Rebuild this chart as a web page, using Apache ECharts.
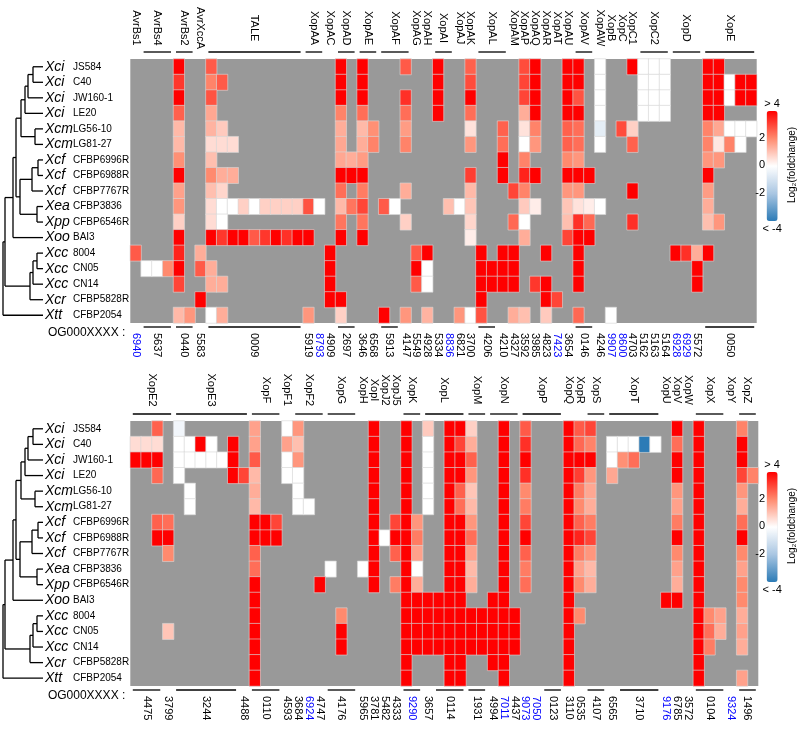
<!DOCTYPE html>
<html><head><meta charset="utf-8">
<script src="https://cdn.jsdelivr.net/npm/echarts@6/dist/echarts.min.js"></script>
<style>html,body{margin:0;padding:0;background:#fff}#c{width:798px;height:731px}</style>
</head><body><div id="c"></div>
<script>
const _ = null;
const FONT = '"Liberation Sans", Arial, sans-serif';

const speciesNames = ['Xci','Xci','Xci','Xci','Xcm','Xcm','Xcf','Xcf','Xcf','Xea','Xpp','Xoo','Xcc','Xcc','Xcc','Xcr','Xtt'];
const strainNames = ['JS584','C40','JW160-1','LE20','LG56-10','LG81-27','CFBP6996R','CFBP6988R','CFBP7767R','CFBP3836','CFBP6546R','BAI3','8004','CN05','CN14','CFBP5828R','CFBP2054'];

// ---- top panel: effector names, column spans, orthogroup labels ----
const topGenes = ['AvrBs1','AvrBs4','AvrBs2','AvrXccA','TALE','XopAA','XopAC','XopAD','XopAE','XopAF','XopAG','XopAH','XopAI','XopAJ','XopAK','XopAL','XopAM','XopAP','XopAQ','XopAR','XopAT','XopAU','XopAV','XopAW','XopB','XopC','XopC1','XopC2','XopD','XopE'];
const topGeneSpans = [[0,0],[1,3],[4,5],[6,6],[7,15],[16,17],[18,18],[19,20],[21,22],[23,25],[26,26],[27,27],[28,29],[30,30],[31,31],[32,34],[35,35],[36,36],[37,37],[38,38],[39,39],[40,40],[41,42],[43,43],[44,44],[45,45],[46,46],[47,49],[50,52],[53,57]];
const topOGs = ['6940','5637','0440','5583','0009','5919','8793','4909','2697','3646','6568','5913','4147','5549','4928','5334','8836','6821','3700','4206','4210','4327','3592','3985','4823','7423','3654','0146','4246','9907','8600','4703','5162','5163','5164','6928','6929','5572','0050'];
const topOGSpans = [[0,0],[1,3],[4,5],[6,6],[7,15],[16,16],[17,17],[18,18],[19,20],[21,21],[22,22],[23,24],[25,25],[26,26],[27,27],[28,28],[29,29],[30,30],[31,31],[32,33],[34,34],[35,35],[36,36],[37,37],[38,38],[39,39],[40,40],[41,42],[43,43],[44,44],[45,45],[46,46],[47,47],[48,48],[49,49],[50,50],[51,51],[52,52],[53,57]];
const topOGBlue = ['6940','8793','8836','7423','9907','8600','6928','6929'];

// ---- bottom panel ----
const botGenes = ['XopE2','XopE3','XopF','XopF1','XopF2','XopG','XopH','XopI','XopJ2','XopJ5','XopK','XopL','XopM','XopN','XopP','XopQ','XopR','XopS','XopT','XopU','XopV','XopW','XopX','XopY','XopZ'];
const botGeneSpans = [[0,3],[4,10],[11,13],[14,14],[15,17],[18,20],[21,21],[22,22],[23,23],[24,24],[25,26],[27,30],[31,32],[33,35],[36,39],[40,40],[41,41],[42,43],[44,48],[49,49],[50,50],[51,51],[52,54],[55,55],[56,57]];
const botOGs = ['4475','3799','3244','4488','0110','4593','3684','6924','4747','4176','5965','3781','5482','4333','9290','3657','0114','1931','4994','7011','4437','9073','7050','0123','3110','0535','4107','6565','3710','9176','6785','3572','0104','9324','1496'];
const botOGSpans = [[0,2],[3,3],[4,9],[10,10],[11,13],[14,14],[15,15],[16,16],[17,17],[18,20],[21,21],[22,22],[23,23],[24,24],[25,26],[27,27],[28,30],[31,32],[33,33],[34,34],[35,35],[36,36],[37,37],[38,39],[40,40],[41,41],[42,43],[44,44],[45,48],[49,49],[50,50],[51,51],[52,54],[55,55],[56,57]];
const botOGBlue = ['6924','9290','7011','9073','7050','9176','9324'];

// ---- log2 fold change values, top panel (17 strains x 58 columns, null = absent) ----
const top_JS584 = [_,_,_,_,4,_,_,2.7,_,_, _,_,_,_,_,_,_,_,_,4, _,4,_,_,_,2.7,_,_,4,_, _,2.6,_,_,_,_,2.9,4,_,_, 4,4,_,0,_,_,4,0,0,0, _,_,_,4,4,_,_,_];
const top_C40 = [_,_,_,_,3.2,_,_,2.1,2.7,_, _,_,_,_,_,_,_,_,_,4, _,4,_,_,_,_,_,_,4,_, _,2.9,_,_,_,_,3.0,4,_,_, 4,4,_,0,_,_,_,0,0,0, _,_,_,4,4,0,4,4];
const top_JW160 = [_,_,_,_,4,_,_,2.8,_,_, _,_,_,_,_,_,_,_,_,4, _,4,_,_,_,3.3,_,_,4,_, _,4,_,_,_,_,3.0,4,_,_, 4,2.8,_,0,_,_,_,0,0,0, _,_,_,4,4,0,4,4];
const top_LE20 = [_,_,_,_,2.6,_,_,1.5,_,_, _,_,_,_,_,_,_,_,_,2.1, _,2.4,_,_,_,2.4,_,_,4,_, _,2.4,_,_,_,_,1.4,4,_,_, 4,4,_,0,_,_,_,0,0,0, _,_,_,4,4,_,_,_];
const top_LG5610 = [_,_,_,_,1.2,_,_,1.3,0.9,_, _,_,_,_,_,_,_,_,_,1.4, _,1.2,1.9,_,_,1.7,_,_,_,_, _,0.5,_,_,2.6,_,0.5,2.1,_,_, 2.6,2.4,_,-0.6,_,2.9,0.8,_,_,_, _,_,_,2.1,1.5,0,0,0];
const top_LG8127 = [_,_,_,_,1.2,_,_,0.6,0.6,0.6, _,_,_,_,_,_,_,_,_,1.5, _,1.4,2.1,_,_,2.1,_,_,_,_, _,1.8,_,_,2.4,_,0,1.8,_,_, 2.6,2.4,_,0,_,_,2.6,_,_,_, _,_,_,2.1,0.4,2.1,0,_];
const top_6996R = [_,_,_,_,1.9,_,_,1.1,_,_, _,_,_,_,_,_,_,_,_,1.5, 1.4,1.7,_,_,_,_,_,_,_,_, _,_,_,_,4,_,2.1,_,_,_, 2.0,1.8,_,_,_,_,_,_,_,_, _,_,_,1.8,1.8,_,_,_];
const top_6988R = [_,_,_,_,4,_,_,2.0,1.4,1.4, _,_,_,_,_,_,_,_,_,4, 4,4,_,_,_,_,_,_,_,_, _,3.1,_,_,4,_,3.5,4,_,_, 4,4,4,_,_,_,_,_,_,_, _,_,_,4,_,_,_,_];
const top_7767R = [_,_,_,_,1.6,_,_,1.1,0.7,_, _,_,_,_,_,_,_,_,_,2.4, _,2.2,_,_,_,1.4,_,_,_,_, _,1.2,_,_,_,3.0,2.1,_,_,_, 1.8,1.8,_,_,_,_,4,_,_,_, _,_,_,1.7,_,_,_,_];
const top_3836 = [_,_,_,_,1.8,_,_,0.6,0,0, 0.8,0,0.8,0.8,0.8,0.8,2.8,0,_,1.2, 2.3,3.0,_,2.7,0,_,_,_,_,1.1, 0,1.0,_,_,_,_,0.9,0.3,_,_, 1.0,0.5,0.3,0,_,_,_,_,_,_, _,_,_,1.4,_,_,_,_];
const top_6546R = [_,_,_,_,0.8,_,_,0.6,0,_, _,_,_,_,_,_,_,_,_,2.3, _,2.3,_,_,_,0.8,_,_,_,_, _,0.7,_,_,_,2.5,0,_,_,_, 1.1,3.3,2.5,_,_,_,3.3,_,_,_, _,_,_,1.1,1.8,_,_,_];
const top_BAI3 = [_,_,_,_,4,_,_,4,3.2,4, 4,2.7,3.2,4,3.3,4,4,_,_,4, _,4,_,_,_,_,_,_,_,_, _,0.3,_,_,_,_,1.4,_,_,_, 3.0,4,4,_,_,_,_,_,_,_, _,_,_,_,_,_,_,_];
const top_8004 = [2.7,_,_,_,3.5,_,1.4,_,_,_, _,_,_,_,_,_,_,_,4,_, _,_,_,_,_,_,2.7,4,_,_, _,_,4,_,4,4,_,_,4,_, _,4,_,_,_,_,_,_,_,_, 4,3.3,1.4,4,_,_,_,_];
const top_CN05 = [_,0,0,2.0,4,_,2.7,1.4,_,_, _,_,_,_,_,_,_,_,4,_, _,_,_,_,_,_,4,0,_,_, _,_,4,4,4,4,_,_,_,_, _,4,_,_,_,_,_,_,_,_, _,_,4,_,_,_,_,_];
const top_CN14 = [_,_,_,_,3.0,_,_,1.4,1.4,_, _,_,_,_,_,_,_,_,4,_, _,_,_,_,_,_,2.7,0,_,_, _,_,4,4,4,4,_,3.2,4,_, _,4,_,_,_,_,_,_,_,_, _,_,4,_,_,_,_,_];
const top_5828R = [_,_,_,_,_,_,4,_,_,_, _,_,_,_,_,_,_,_,4,4, _,_,_,_,_,_,_,_,_,_, _,_,4,_,_,_,_,_,4,3.0, _,_,_,_,_,_,_,_,_,_, _,_,_,_,_,_,_,_];
const top_2054 = [_,_,_,_,1.2,1.8,_,0,1.4,_, _,_,_,_,_,_,1.8,_,_,0.8, _,_,_,4,_,1.8,_,1.3,_,_, 1.8,0,2.8,_,_,1.4,1.1,_,0.9,_, _,2.5,_,_,0,_,_,_,_,_, _,_,_,_,_,_,_,_];

// ---- bottom panel ----
const bot_JS584 = [_,_,2.6,_,-0.3,_,_,_,_,_, _,1.6,_,_,0,1.8,_,_,_,_, _,_,4,_,_,4,_,0.9,_,4, 4,0.8,_,_,4,_,2.7,_,_,_, 4,2.7,3.0,_,_,_,_,_,_,_, 4,_,4,_,_,_,2.1,_];
const bot_C40 = [0.6,0.6,0.6,_,0,0,4,0,_,4, _,1.6,_,_,1.6,1.1,_,_,_,_, _,_,4,_,_,4,_,0,_,4, 3.0,1.4,_,_,4,_,3.3,_,_,_, 4,2.5,2.1,_,0,0,0,-4,0,_, 2.4,_,4,_,_,_,4,_];
const bot_JW160 = [4,4,4,_,0,0,0,0,0,4, _,2.7,_,_,0,1.8,_,_,_,_, _,_,4,_,_,4,_,0,_,4, 4,2.6,_,_,4,_,4,_,_,_, 4,4,4,_,0,1.9,2.4,_,_,_, 4,_,4,_,_,_,4,_];
const bot_LE20 = [_,_,2.5,_,0,_,_,_,_,4, 3.0,1.2,_,_,0,0,_,_,_,_, _,_,4,_,_,4,_,0,_,4, 4,1.8,_,_,4,_,3.3,_,_,_, 4,3.1,1.8,_,1.5,_,_,_,_,_, 4,_,4,_,_,_,3.0,2.1];
const bot_LG5610 = [_,_,_,_,_,0,_,_,_,_, _,1.4,_,_,_,0,_,_,_,_, _,_,4,_,_,4,_,0,_,4, 2.6,1.0,_,_,4,_,2.0,_,_,_, 4,2.2,1.5,_,_,_,_,_,_,_, 1.8,_,4,_,_,_,1.8,_];
const bot_LG8127 = [_,_,_,_,_,0,_,_,_,_, _,1.2,_,_,_,0,0,_,_,_, _,_,4,_,_,4,_,0,_,4, 2.4,1.2,_,_,4,_,2.2,_,_,_, 4,2.0,1.4,_,_,_,_,_,_,_, 1.6,_,4,_,_,_,1.4,_];
const bot_6996R = [_,_,2.6,2.4,_,_,_,_,_,_, _,4,4,3.0,_,_,_,_,_,_, _,_,4,_,3.0,4,1.8,_,_,4, 4,1.8,_,_,4,_,3.0,_,_,_, 4,2.6,2.2,_,_,_,_,_,_,_, 2.2,_,4,_,_,_,2.4,_];
const bot_6988R = [_,_,4,4,_,_,_,_,_,_, _,4,4,4,_,_,_,_,_,_, _,_,4,0,4,4,2.2,_,_,4, 4,2.4,_,_,4,_,4,_,_,_, 4,3.5,3.0,_,_,_,_,_,_,_, 4,_,4,_,_,_,4,_];
const bot_7767R = [_,_,_,2.0,_,_,_,_,_,_, _,2.6,_,_,_,_,_,_,_,_, _,_,4,_,2.6,4,1.6,_,_,4, 4,1.6,_,_,4,_,2.6,_,_,_, 4,2.2,1.8,_,_,_,_,_,_,_, 2.0,_,4,_,_,_,2.0,_];
const bot_3836 = [_,_,_,_,_,_,_,_,_,_, _,2.4,_,_,_,_,_,_,0,_, _,0,4,_,_,4,0,_,_,4, 4,1.2,_,_,4,_,2.2,_,_,_, 4,1.6,1.2,_,_,_,_,_,_,_, 1.6,_,4,_,_,_,1.6,_];
const bot_6546R = [_,_,_,_,_,_,_,_,_,_, _,4,_,_,_,_,_,4,_,_, _,_,4,_,2.2,4,1.4,_,_,4, 4,1.4,_,_,4,_,2.4,_,_,_, 4,2.0,1.4,_,_,_,_,_,_,_, 1.4,_,4,_,_,_,2.0,_];
const bot_BAI3 = [_,_,_,_,_,_,_,_,_,_, _,4,_,_,_,_,_,_,_,_, _,_,_,_,_,4,4,4,4,4, 4,_,_,4,4,_,_,_,_,_, 4,_,_,_,_,_,_,_,_,4, 4,_,4,_,_,_,2.0,_];
const bot_8004 = [_,_,_,_,_,_,_,_,_,_, _,4,_,_,_,_,_,_,_,2.0, _,_,_,_,_,4,4,4,4,4, 4,4,4,4,4,4,_,_,_,_, 4,2.0,_,_,_,_,_,_,_,_, _,_,4,2.0,1.6,_,1.4,_];
const bot_CN05 = [_,_,_,1.0,_,_,_,_,_,_, _,4,_,_,_,_,_,_,_,4, _,_,_,_,_,4,4,4,4,4, 4,4,4,4,4,4,_,_,_,_, 4,_,_,_,_,_,_,_,_,_, _,_,4,2.4,1.4,_,1.6,_];
const bot_CN14 = [_,_,_,_,_,_,_,_,_,_, _,4,_,_,_,_,_,_,_,4, _,_,_,_,_,4,4,4,4,4, 4,4,4,4,4,4,_,_,_,_, 4,_,_,_,_,_,_,_,_,_, _,_,4,2.2,_,_,1.4,_];
const bot_5828R = [_,_,_,_,_,_,_,_,_,_, _,4,_,_,_,_,_,_,_,_, _,_,_,_,_,4,_,_,_,4, 4,_,_,4,4,_,_,_,_,_, 4,_,_,_,_,_,_,_,_,_, _,_,4,_,_,_,_,_];
const bot_2054 = [_,_,_,_,_,_,_,_,_,_, _,4,_,_,_,_,_,_,_,_, _,_,_,_,_,4,_,_,_,4, 4,_,_,_,4,_,_,_,_,_, 4,_,_,_,_,_,_,_,_,_, _,_,4,_,_,_,1.6,_];

const topRows = [top_JS584,top_C40,top_JW160,top_LE20,top_LG5610,top_LG8127,top_6996R,top_6988R,top_7767R,top_3836,top_6546R,top_BAI3,top_8004,top_CN05,top_CN14,top_5828R,top_2054];
const botRows = [bot_JS584,bot_C40,bot_JW160,bot_LE20,bot_LG5610,bot_LG8127,bot_6996R,bot_6988R,bot_7767R,bot_3836,bot_6546R,bot_BAI3,bot_8004,bot_CN05,bot_CN14,bot_5828R,bot_2054];

// ---- dendrogram: [branch depth, childA, childB]; children: row index or node name ----
const treeNodes = {
  A: [33, 0, 1], B: [28, 'A', 2], C: [25, 'B', 3], D: [35, 4, 5], E: [21, 'C', 'D'],
  F: [38, 6, 7], G: [32, 'F', 8], H: [37, 9, 10], I: [20, 'G', 'H'], J: [16, 'E', 'I'],
  K: [13, 'J', 11], L: [37, 12, 13], M: [33, 'L', 14], N: [30, 'M', 15], O: [5, 'K', 'N'], P: [3, 'O', 16]
};
const leafDepth = 43;

const legendTicks = [-2, 0, 2];
const legendEnds = ['> 4', '< -4'];
const palette = ['#2C7BB6', '#A9C6E2', '#FFFFFF', '#FF8A6E', '#FF0000'];

// ---------------------------------------------------------------
function heatData(rows){ const d=[]; rows.forEach((r,ri)=>r.forEach((v,ci)=>{ if(v!==null) d.push([ci,ri,v]); })); return d; }
function treeSegments(){
  const segs = [];
  const info = {};
  function pos(ch){
    if (typeof ch === 'number') return {x: leafDepth, y: ch};
    if (info[ch]) return info[ch];
    const n = treeNodes[ch]; const a = pos(n[1]), b = pos(n[2]);
    const p = {x: n[0], y: (a.y + b.y)/2};
    segs.push([n[0], a.y, n[0], b.y]);
    segs.push([n[0], a.y, a.x, a.y]);
    segs.push([n[0], b.y, b.x, b.y]);
    info[ch] = p; return p;
  }
  pos('P');
  return segs;
}
const colCats = Array.from({length:58},(v,i)=>String(i));
const rowCats = strainNames.map((v,i)=>String(i));

function heatY(grid){
  return {type:'category', gridIndex:grid, data:rowCats, inverse:true,
    axisLine:{show:false}, axisTick:{show:false}, splitLine:{show:false},
    axisLabel:{show:true, align:'left', margin:85.3, interval:0,
      formatter:(v,i)=>'{sp|'+speciesNames[i]+'}{st|'+strainNames[i]+'}',
      rich:{sp:{fontStyle:'italic', fontSize:14, width:28, fontFamily:FONT, color:'#000'},
            st:{fontSize:10, fontFamily:FONT, color:'#000'}}}};
}
function heatX(grid){
  return {type:'category', gridIndex:grid, data:colCats, show:false,
    axisLine:{show:false}, axisTick:{show:false}, axisLabel:{show:false}, splitLine:{show:false}};
}
function hiddenVal(grid, min, max, inverse){
  return {type:'value', gridIndex:grid, min:min, max:max, inverse:!!inverse, show:false,
    axisLine:{show:false}, axisTick:{show:false}, axisLabel:{show:false}, splitLine:{show:false}};
}
function headerSeries(axis, labels, spans){
  return {type:'custom', xAxisIndex:axis, yAxisIndex:axis, silent:true, clip:false, z:5,
    data: spans.map((s,i)=>[s[0],0,s[1],i]), encode:{x:[0,2], y:1},
    renderItem(params, api){
      const s=api.value(0), e=api.value(2), i=api.value(3);
      const bw=api.size([1,0])[0], bh=api.size([0,1])[1];
      const p0=api.coord([s,0]), p1=api.coord([e,0]);
      const x1=p0[0]-bw/2, x2=p1[0]+bw/2, top=p0[1]-bh/2;
      const ch=[{type:'text', x:(x1+x2)/2, y:top-31, rotation:-Math.PI/2,
        style:{text:labels[i], fill:'#000', font:'11px '+FONT, align:'center', verticalAlign:'middle'}}];
      if (e>s) ch.push({type:'line', shape:{x1:x1+2.5, y1:top-7, x2:x2-2.5, y2:top-7}, style:{stroke:'#000', lineWidth:1.3}});
      return {type:'group', children:ch};
    }};
}
function ogSeries(axis, labels, spans, blue){
  return {type:'custom', xAxisIndex:axis, yAxisIndex:axis, silent:true, clip:false, z:5,
    data: spans.map((s,i)=>[s[0],16,s[1],i]), encode:{x:[0,2], y:1},
    renderItem(params, api){
      const s=api.value(0), e=api.value(2), i=api.value(3);
      const bw=api.size([1,0])[0], bh=api.size([0,1])[1];
      const p0=api.coord([s,16]), p1=api.coord([e,16]);
      const x1=p0[0]-bw/2, x2=p1[0]+bw/2, bot=p0[1]+bh/2;
      const ch=[{type:'text', x:(x1+x2)/2, y:bot+10, rotation:-Math.PI/2,
        style:{text:labels[i], fill: blue.indexOf(labels[i])>=0 ? '#0000FF' : '#000', font:'11px '+FONT, align:'left', verticalAlign:'middle'}}];
      if (e>s) ch.push({type:'line', shape:{x1:x1+2.5, y1:bot+4, x2:x2-2.5, y2:bot+4}, style:{stroke:'#000', lineWidth:1.3}});
      if (i===0) ch.push({type:'text', x:x1-5, y:bot+10, style:{text:'OG000XXXX :', fill:'#000', font:'12px '+FONT, align:'right', verticalAlign:'middle'}});
      return {type:'group', children:ch};
    }};
}
function treeSeries(axis, segs){
  return {type:'custom', xAxisIndex:axis, yAxisIndex:axis, silent:true, clip:false,
    data: segs, encode:{x:[0,2], y:[1,3]},
    renderItem(params, api){
      const a=api.coord([api.value(0), api.value(1)]), b=api.coord([api.value(2), api.value(3)]);
      return {type:'line', shape:{x1:a[0], y1:a[1], x2:b[0], y2:b[1]}, style:{stroke:'#000', lineWidth:1.3}};
    }};
}
function legendY(grid){
  return {type:'value', gridIndex:grid, min:-4, max:4, interval:2, position:'left',
    axisLine:{show:false}, axisTick:{show:false}, splitLine:{show:false},
    axisLabel:{margin:2, fontSize:11, fontFamily:FONT, color:'#000',
      formatter:v=> legendTicks.indexOf(v)>=0 ? String(v) : ''}};
}
function legendName(grid){
  return {type:'value', gridIndex:grid, min:-4, max:4, position:'right',
    axisLine:{show:false}, axisTick:{show:false}, splitLine:{show:false}, axisLabel:{show:false},
    name:'Log\u2082(foldchange)', nameLocation:'middle', nameRotate:90, nameGap:17,
    nameTextStyle:{fontSize:10, fontFamily:FONT, color:'#000'}};
}
function vm(series, top){
  return {type:'continuous', seriesIndex:series, min:-4, max:4, calculable:false, realtime:false,
    hoverLink:false, orient:'vertical', left:747.5, top:top, itemWidth:11, itemHeight:110,
    text:legendEnds, textGap:2, inRange:{color:palette},
    textStyle:{fontSize:11, fontFamily:FONT, color:'#000'}};
}

const chart = echarts.init(document.getElementById('c'));
const segs = treeSegments();
chart.setOption({
  animation:false,
  textStyle:{fontFamily:FONT},
  grid:[
    {left:130.3, top:59, width:626.4, height:264, show:true, backgroundColor:'#999999', borderWidth:0},
    {left:130.3, top:421, width:628, height:265, show:true, backgroundColor:'#999999', borderWidth:0},
    {left:0, top:59, width:43, height:264},
    {left:0, top:421, width:43, height:265},
    {left:767, top:110, width:11, height:110},
    {left:767, top:471, width:11, height:110}
  ],
  xAxis:[heatX(0), heatX(1), hiddenVal(2,0,43), hiddenVal(3,0,43), hiddenVal(4,0,1), hiddenVal(5,0,1)],
  yAxis:[heatY(0), heatY(1), hiddenVal(2,-0.5,16.5,true), hiddenVal(3,-0.5,16.5,true),
         legendY(4), legendY(5), legendName(4), legendName(5)],
  visualMap:[vm(0, 83), vm(1, 444)],
  series:[
    {type:'heatmap', xAxisIndex:0, yAxisIndex:0, data:heatData(topRows), silent:true,
      itemStyle:{borderColor:'rgba(215,215,215,0.9)', borderWidth:0.7}},
    {type:'heatmap', xAxisIndex:1, yAxisIndex:1, data:heatData(botRows), silent:true,
      itemStyle:{borderColor:'rgba(215,215,215,0.9)', borderWidth:0.7}},
    treeSeries(2, segs), treeSeries(3, segs),
    headerSeries(0, topGenes, topGeneSpans), ogSeries(0, topOGs, topOGSpans, topOGBlue),
    headerSeries(1, botGenes, botGeneSpans), ogSeries(1, botOGs, botOGSpans, botOGBlue)
  ]
});
</script></body></html>
